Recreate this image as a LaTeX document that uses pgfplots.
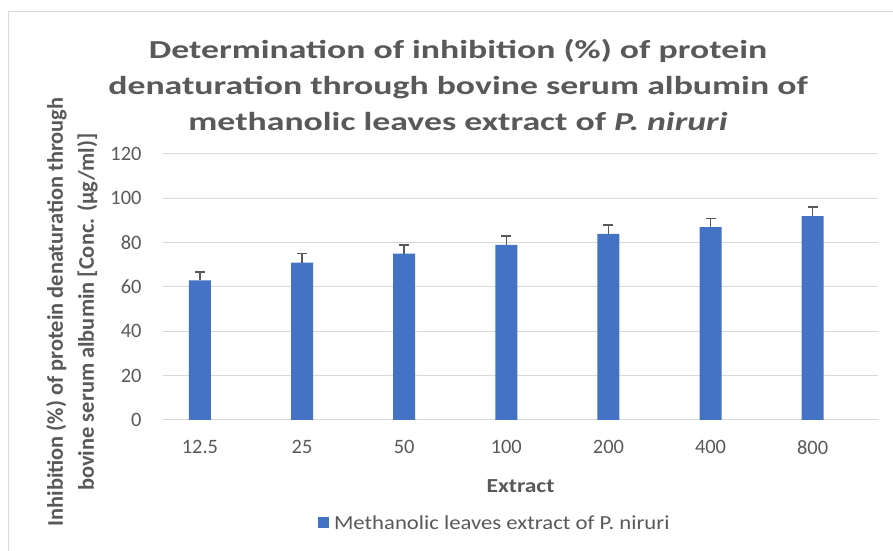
\documentclass[border=0pt]{standalone}
\usepackage{pgfplots}
\pgfplotsset{compat=1.18}
\usepackage{fontspec}
\setmainfont{Carlito}
\definecolor{barblue}{HTML}{4472C4}
\definecolor{txtgray}{HTML}{595959}
\definecolor{gridgray}{HTML}{D9D9D9}
\begin{document}
\begin{tikzpicture}[x=1bp,y=1bp]
\useasboundingbox (0,0) rectangle (893,551);
\fill[white] (0,0) rectangle (893,551);
\draw[gridgray, line width=1bp] (8,0) -- (8,539) -- (893,539);
\node[font=\fontsize{26}{36}\selectfont\bfseries, text=txtgray, align=center, xscale=1.38, transform shape] at (458,466)
  {Determination of inhibition (\%) of protein\\denaturation through bovine serum albumin of\\methanolic leaves extract of \textit{P. niruri}};
\node[font=\fontsize{22.5}{31}\selectfont\bfseries, text=txtgray, align=center, rotate=90] at (72,239)
  {Inhibition (\%) of protein denaturation through\\bovine serum albumin [Conc. (µg/ml)]};
\begin{axis}[
  at={(163bp,131bp)}, anchor=south west,
  scale only axis, width=715bp, height=266bp,
  xmin=-0.362, xmax=6.64, ymin=0, ymax=120,
  ytick={0,20,...,120},
  xtick={0,...,6},
  xticklabels={12.5,25,50,100,200,400,800},
  axis line style={draw=none},
  axis x line*=bottom,
  x axis line style={draw=gridgray, line width=1bp},
  major tick length=0pt,
  ymajorgrids, grid style={gridgray, line width=1bp},
  tick label style={font=\fontsize{20.5}{24}\selectfont, text=txtgray},
  /pgf/number format/assume math mode=true,
  xticklabel style={yshift=-17bp},
  yticklabel style={xshift=-18bp},
  xlabel={\scalebox{1.18}[1]{Extract}},
  xlabel style={font=\fontsize{20}{24}\selectfont\bfseries, text=txtgray, yshift=-18bp},
  legend style={at={(0.464,-0.387)}, anchor=center, draw=none, fill=none,
    font=\fontsize{20}{24}\selectfont, text=txtgray,
    /tikz/every even column/.append style={column sep=0bp}},
  legend image code/.code={\fill[barblue] (0bp,-5bp) rectangle (11bp,6bp);},
]
\addplot[ybar, bar width=22bp, fill=barblue, draw=none,
  error bars/.cd, y dir=plus, y explicit,
  error bar style={txtgray, line width=1.5bp},
  error mark options={rotate=90, mark size=5bp, line width=1.5bp, txtgray}]
  coordinates {
  (0,63) +- (0,3.7)
  (1,71) +- (0,4)
  (2,75) +- (0,4)
  (3,79) +- (0,4)
  (4,84) +- (0,4)
  (5,87) +- (0,4)
  (6,92) +- (0,4)
  };
\addlegendentry{\hspace{3bp}\scalebox{1.14}[1]{Methanolic leaves extract of P. niruri}}
\end{axis}
\end{tikzpicture}
\end{document}
